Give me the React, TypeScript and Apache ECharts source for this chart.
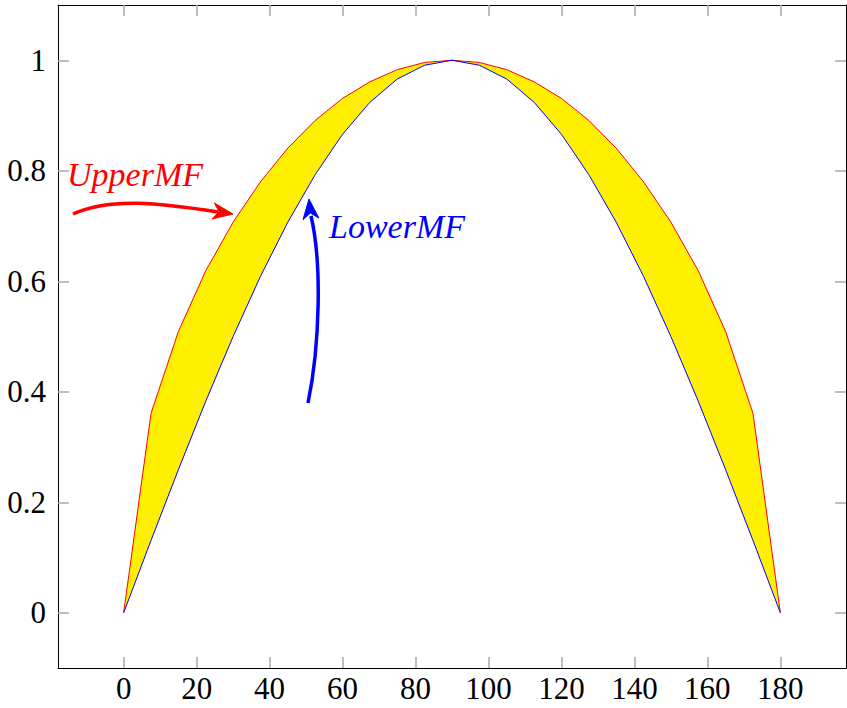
import React, { useEffect, useRef } from 'react';
import * as echarts from 'echarts';

// Angles (degrees) at which the membership functions are sampled
const xValues = [0, 7.5, 15, 22.5, 30, 37.5, 45, 52.5, 60, 67.5, 75, 82.5, 90, 97.5, 105, 112.5, 120, 127.5, 135, 142.5, 150, 157.5, 165, 172.5, 180];
// Upper membership function (red)
const upperMF = [0, 0.361, 0.509, 0.619, 0.707, 0.78, 0.841, 0.891, 0.931, 0.961, 0.983, 0.996, 1, 0.996, 0.983, 0.961, 0.931, 0.891, 0.841, 0.78, 0.707, 0.619, 0.509, 0.361, 0];
// Lower membership function (blue)
const lowerMF = [0, 0.131, 0.259, 0.383, 0.5, 0.609, 0.707, 0.793, 0.866, 0.924, 0.966, 0.991, 1, 0.991, 0.966, 0.924, 0.866, 0.793, 0.707, 0.609, 0.5, 0.383, 0.259, 0.131, 0];

const xTicks = [0, 20, 40, 60, 80, 100, 120, 140, 160, 180];
const yTicks = [0, 0.2, 0.4, 0.6, 0.8, 1];

const FONT = '"Liberation Serif", "DejaVu Serif", serif';
const TICK_COLOR = '#a8a8a8';

function arrowHead(tip: number[], from: number[], len: number, half: number, notch: number) {
  const dx = tip[0] - from[0];
  const dy = tip[1] - from[1];
  const d = Math.hypot(dx, dy);
  const ux = dx / d, uy = dy / d;
  const nx = -uy, ny = ux;
  const bx = tip[0] - ux * len, by = tip[1] - uy * len;
  return [
    [tip[0], tip[1]],
    [bx + nx * half, by + ny * half],
    [tip[0] - ux * notch, tip[1] - uy * notch],
    [bx - nx * half, by - ny * half],
  ];
}

export default function App() {
  const ref = useRef<HTMLDivElement>(null);

  useEffect(() => {
    const chart = echarts.init(ref.current!, null, { renderer: 'svg' });

    const lowerData = xValues.map((x, i) => [x, lowerMF[i]]);
    const upperData = xValues.map((x, i) => [x, upperMF[i]]);

    const xAxisCommon = {
      type: 'value' as const,
      min: -18,
      max: 198,
      splitLine: { show: false },
      axisLine: { show: true, onZero: false, lineStyle: { color: '#000', width: 1 } },
      axisTick: { show: true, inside: true, length: 11, customValues: xTicks, lineStyle: { color: TICK_COLOR, width: 1.5 } },
    };
    const yAxisCommon = {
      type: 'value' as const,
      min: -0.1,
      max: 1.1,
      splitLine: { show: false },
      axisLine: { show: true, onZero: false, lineStyle: { color: '#000', width: 1 } },
      axisTick: { show: true, inside: true, length: 11, customValues: yTicks, lineStyle: { color: TICK_COLOR, width: 1.5 } },
    };

    // Red arrow geometry (pixels)
    const rP0 = [73, 214], rP1 = [110, 197], rP2 = [160, 203], rP3 = [218, 212];
    const rTip = [233, 214];
    // Blue arrow geometry (pixels)
    const bP0 = [308, 403], bP1 = [320, 345], bP2 = [322, 262], bP3 = [311, 216];
    const bTip = [309, 199];

    chart.setOption({
      animation: false,
      backgroundColor: '#fff',
      grid: { left: 58, right: 1, top: 5, bottom: 40, containLabel: false, show: false },
      xAxis: [
        {
          ...xAxisCommon,
          position: 'bottom',
          axisLabel: { show: true, customValues: xTicks, fontFamily: FONT, fontSize: 31, color: '#000', margin: 5 },
        },
        {
          ...xAxisCommon,
          position: 'top',
          axisLabel: { show: false },
        },
      ],
      yAxis: [
        {
          ...yAxisCommon,
          position: 'left',
          axisLabel: {
            show: true,
            customValues: yTicks,
            fontFamily: FONT,
            fontSize: 31,
            color: '#000',
            margin: 12,
            formatter: (v: number) => String(Number(v.toFixed(1))),
          },
        },
        {
          ...yAxisCommon,
          position: 'right',
          axisLabel: { show: false },
        },
      ],
      series: [
        {
          type: 'line',
          name: 'UpperFill',
          data: upperData,
          symbol: 'none',
          lineStyle: { width: 0, opacity: 0 },
          areaStyle: { color: '#fff000', opacity: 1, origin: 0 },
          z: 1,
          silent: true,
        },
        {
          type: 'line',
          name: 'LowerFill',
          data: lowerData,
          symbol: 'none',
          lineStyle: { width: 0, opacity: 0 },
          areaStyle: { color: '#ffffff', opacity: 1, origin: -0.03 },
          z: 2,
          silent: true,
        },
        {
          type: 'line',
          name: 'Upper',
          data: upperData,
          symbol: 'none',
          lineStyle: { color: '#ff0000', width: 1 },
          z: 3,
        },
        {
          type: 'line',
          name: 'Lower',
          data: lowerData,
          symbol: 'none',
          lineStyle: { color: '#0000ff', width: 1 },
          z: 4,
        },
      ],
      graphic: [
        {
          type: 'text',
          x: 67,
          y: 174,
          z: 20,
          style: { text: 'UpperMF', fill: '#ff0000', font: `italic 34px ${FONT}`, textAlign: 'left', textVerticalAlign: 'middle' },
        },
        {
          type: 'bezierCurve',
          z: 20,
          shape: { x1: rP0[0], y1: rP0[1], cpx1: rP1[0], cpy1: rP1[1], cpx2: rP2[0], cpy2: rP2[1], x2: rP3[0], y2: rP3[1] },
          style: { stroke: '#ff0000', lineWidth: 3.5, fill: null },
        },
        {
          type: 'polygon',
          z: 20,
          shape: { points: arrowHead(rTip, rP2, 20, 8, 14) },
          style: { fill: '#ff0000', stroke: '#ff0000', lineWidth: 1 },
        },
        {
          type: 'text',
          x: 329,
          y: 226,
          z: 20,
          style: { text: 'LowerMF', fill: '#0000ff', font: `italic 34px ${FONT}`, textAlign: 'left', textVerticalAlign: 'middle' },
        },
        {
          type: 'bezierCurve',
          z: 20,
          shape: { x1: bP0[0], y1: bP0[1], cpx1: bP1[0], cpy1: bP1[1], cpx2: bP2[0], cpy2: bP2[1], x2: bP3[0], y2: bP3[1] },
          style: { stroke: '#0000ff', lineWidth: 3.5, fill: null },
        },
        {
          type: 'polygon',
          z: 20,
          shape: { points: arrowHead(bTip, [313, 240], 20, 8, 14) },
          style: { fill: '#0000ff', stroke: '#0000ff', lineWidth: 1 },
        },
      ],
    });

    return () => chart.dispose();
  }, []);

  return (
    <div
      ref={ref}
      style={{ position: 'fixed', left: 0, top: 0, width: 847, height: 708, background: '#fff' }}
    />
  );
}
